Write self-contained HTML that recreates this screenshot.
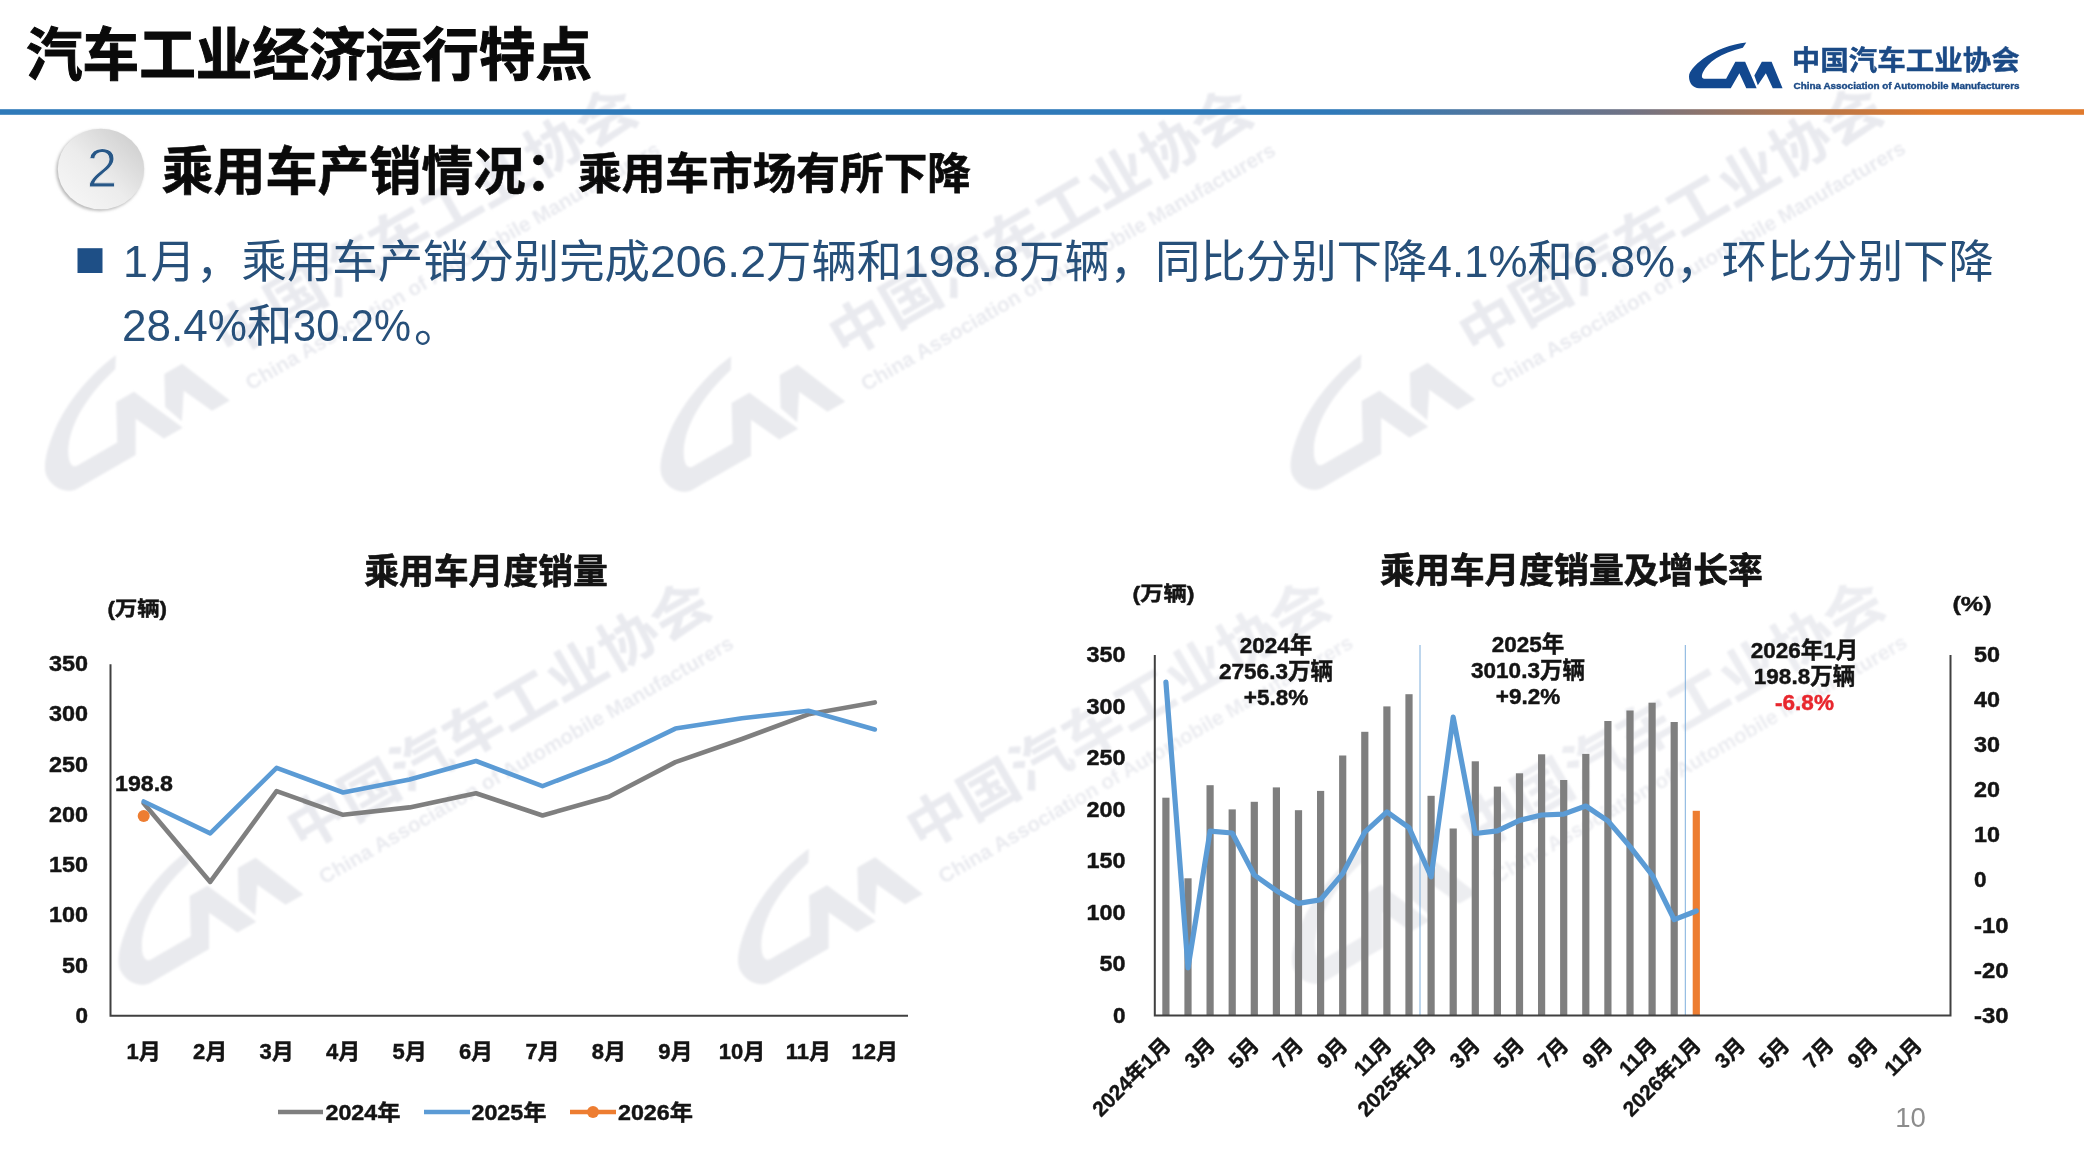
<!DOCTYPE html>
<html lang="zh-CN">
<head>
<meta charset="utf-8">
<title>汽车工业经济运行特点</title>
<style>
html,body{margin:0;padding:0;background:#ffffff;}
body{width:2084px;height:1172px;overflow:hidden;}
svg{display:block;font-family:"Liberation Sans", "Noto Sans CJK SC", sans-serif;filter:blur(0.55px);}
text{white-space:pre;}
</style>
</head>
<body>
<svg width="2084" height="1172" viewBox="0 0 2084 1172">
<defs>
<linearGradient id="hl" x1="0" y1="0" x2="1" y2="0">
<stop offset="0" stop-color="#2f7ab9"/>
<stop offset="0.64" stop-color="#2f7ab9"/>
<stop offset="0.78" stop-color="#6f7386"/>
<stop offset="0.86" stop-color="#b0764f"/>
<stop offset="0.93" stop-color="#e07a2d"/>
<stop offset="1" stop-color="#e07a2d"/>
</linearGradient>
<linearGradient id="ball" x1="0.1" y1="0.9" x2="0.9" y2="0.1">
<stop offset="0" stop-color="#f6f6f6"/>
<stop offset="0.45" stop-color="#ececec"/>
<stop offset="1" stop-color="#cfcfcf"/>
</linearGradient>
<filter id="bs" x="-20%" y="-20%" width="140%" height="140%"><feGaussianBlur stdDeviation="1.6"/></filter>
<filter id="wb" x="0" y="0" width="100%" height="100%" filterUnits="userSpaceOnUse" primitiveUnits="userSpaceOnUse"><feGaussianBlur stdDeviation="1.3"/></filter>
</defs>
<rect width="2084" height="1172" fill="#ffffff"/>

<g fill="#e9eaee" filter="url(#wb)">
<g transform="translate(61,501) rotate(-30) scale(2.1) translate(0,-47)">
<g transform="translate(-8.92,-8.35) scale(0.05757)" fill="#e9eaee"><path d="M1150 145 C900 170 600 280 400 430 C250 545 155 650 155 740 C155 850 230 940 330 940 L880 940 L1030 680 L1150 940 L1330 940 L1130 480 L960 480 L800 775 L420 775 C370 775 370 720 400 660 C480 500 700 330 1090 240 Z"/><path d="M1290 720 L1420 480 L1590 480 L1780 940 L1610 940 L1490 680 L1350 890 Z"/></g>
<text x="102.8" y="28" font-size="26.8" font-weight="700" fill="#e9eaef" textLength="228" lengthAdjust="spacingAndGlyphs">中国汽车工业协会</text>
<text x="104.5" y="46.6" font-size="9.7" font-weight="700" fill="#e9eaef" textLength="226" lengthAdjust="spacingAndGlyphs">China Association of Automobile Manufacturers</text>
</g>
<g transform="translate(676.4,502) rotate(-30) scale(2.1) translate(0,-47)">
<g transform="translate(-8.92,-8.35) scale(0.05757)" fill="#e9eaee"><path d="M1150 145 C900 170 600 280 400 430 C250 545 155 650 155 740 C155 850 230 940 330 940 L880 940 L1030 680 L1150 940 L1330 940 L1130 480 L960 480 L800 775 L420 775 C370 775 370 720 400 660 C480 500 700 330 1090 240 Z"/><path d="M1290 720 L1420 480 L1590 480 L1780 940 L1610 940 L1490 680 L1350 890 Z"/></g>
<text x="102.8" y="28" font-size="26.8" font-weight="700" fill="#e9eaef" textLength="228" lengthAdjust="spacingAndGlyphs">中国汽车工业协会</text>
<text x="104.5" y="46.6" font-size="9.7" font-weight="700" fill="#e9eaef" textLength="226" lengthAdjust="spacingAndGlyphs">China Association of Automobile Manufacturers</text>
</g>
<g transform="translate(1306.5,500) rotate(-30) scale(2.1) translate(0,-47)">
<g transform="translate(-8.92,-8.35) scale(0.05757)" fill="#e9eaee"><path d="M1150 145 C900 170 600 280 400 430 C250 545 155 650 155 740 C155 850 230 940 330 940 L880 940 L1030 680 L1150 940 L1330 940 L1130 480 L960 480 L800 775 L420 775 C370 775 370 720 400 660 C480 500 700 330 1090 240 Z"/><path d="M1290 720 L1420 480 L1590 480 L1780 940 L1610 940 L1490 680 L1350 890 Z"/></g>
<text x="102.8" y="28" font-size="26.8" font-weight="700" fill="#e9eaef" textLength="228" lengthAdjust="spacingAndGlyphs">中国汽车工业协会</text>
<text x="104.5" y="46.6" font-size="9.7" font-weight="700" fill="#e9eaef" textLength="226" lengthAdjust="spacingAndGlyphs">China Association of Automobile Manufacturers</text>
</g>
<g transform="translate(134.5,995) rotate(-30) scale(2.1) translate(0,-47)">
<g transform="translate(-8.92,-8.35) scale(0.05757)" fill="#e9eaee"><path d="M1150 145 C900 170 600 280 400 430 C250 545 155 650 155 740 C155 850 230 940 330 940 L880 940 L1030 680 L1150 940 L1330 940 L1130 480 L960 480 L800 775 L420 775 C370 775 370 720 400 660 C480 500 700 330 1090 240 Z"/><path d="M1290 720 L1420 480 L1590 480 L1780 940 L1610 940 L1490 680 L1350 890 Z"/></g>
<text x="102.8" y="28" font-size="26.8" font-weight="700" fill="#e9eaef" textLength="228" lengthAdjust="spacingAndGlyphs">中国汽车工业协会</text>
<text x="104.5" y="46.6" font-size="9.7" font-weight="700" fill="#e9eaef" textLength="226" lengthAdjust="spacingAndGlyphs">China Association of Automobile Manufacturers</text>
</g>
<g transform="translate(754,994.5) rotate(-30) scale(2.1) translate(0,-47)">
<g transform="translate(-8.92,-8.35) scale(0.05757)" fill="#e9eaee"><path d="M1150 145 C900 170 600 280 400 430 C250 545 155 650 155 740 C155 850 230 940 330 940 L880 940 L1030 680 L1150 940 L1330 940 L1130 480 L960 480 L800 775 L420 775 C370 775 370 720 400 660 C480 500 700 330 1090 240 Z"/><path d="M1290 720 L1420 480 L1590 480 L1780 940 L1610 940 L1490 680 L1350 890 Z"/></g>
<text x="102.8" y="28" font-size="26.8" font-weight="700" fill="#e9eaef" textLength="228" lengthAdjust="spacingAndGlyphs">中国汽车工业协会</text>
<text x="104.5" y="46.6" font-size="9.7" font-weight="700" fill="#e9eaef" textLength="226" lengthAdjust="spacingAndGlyphs">China Association of Automobile Manufacturers</text>
</g>
<g transform="translate(1308,994) rotate(-30) scale(2.1) translate(0,-47)">
<g transform="translate(-8.92,-8.35) scale(0.05757)" fill="#e9eaee"><path d="M1150 145 C900 170 600 280 400 430 C250 545 155 650 155 740 C155 850 230 940 330 940 L880 940 L1030 680 L1150 940 L1330 940 L1130 480 L960 480 L800 775 L420 775 C370 775 370 720 400 660 C480 500 700 330 1090 240 Z"/><path d="M1290 720 L1420 480 L1590 480 L1780 940 L1610 940 L1490 680 L1350 890 Z"/></g>
<text x="102.8" y="28" font-size="26.8" font-weight="700" fill="#e9eaef" textLength="228" lengthAdjust="spacingAndGlyphs">中国汽车工业协会</text>
<text x="104.5" y="46.6" font-size="9.7" font-weight="700" fill="#e9eaef" textLength="226" lengthAdjust="spacingAndGlyphs">China Association of Automobile Manufacturers</text>
</g>
</g>
<rect x="1070" y="545" width="1014" height="627" fill="#ffffff" opacity="0.15"/>
<text x="26" y="75" font-size="57" font-weight="700" fill="#0a0a0a" textLength="566" lengthAdjust="spacingAndGlyphs" stroke="#0a0a0a" stroke-width="1">汽车工业经济运行特点</text>
<rect x="0" y="109.2" width="2084" height="5.6" fill="url(#hl)"/>
<g transform="translate(1689,42)">
<g transform="translate(-8.92,-7.95) scale(0.05757)" fill="#12488f"><path d="M1150 145 C900 170 600 280 400 430 C250 545 155 650 155 740 C155 850 230 940 330 940 L880 940 L1030 680 L1150 940 L1330 940 L1130 480 L960 480 L800 775 L420 775 C370 775 370 720 400 660 C480 500 700 330 1090 240 Z"/><path d="M1290 720 L1420 480 L1590 480 L1780 940 L1610 940 L1490 680 L1350 890 Z"/></g>
<text x="102.8" y="28" font-size="26.8" font-weight="700" fill="#1b4a86" stroke="#1b4a86" stroke-width="0.4" textLength="228" lengthAdjust="spacingAndGlyphs">中国汽车工业协会</text>
<text x="104.5" y="46.6" font-size="9.7" font-weight="700" fill="#1b4a86" stroke="#1b4a86" stroke-width="0.4" textLength="226" lengthAdjust="spacingAndGlyphs">China Association of Automobile Manufacturers</text>
</g>
<ellipse cx="99.6" cy="170.6" rx="43.5" ry="40.5" fill="#b9b9b9" filter="url(#bs)"/>
<ellipse cx="101" cy="169" rx="43.2" ry="40.2" fill="url(#ball)"/>
<text x="102" y="186.6" font-size="55" font-weight="400" fill="#275787" text-anchor="middle" stroke="#e9e9e9" stroke-width="0.9">2</text>
<text x="161.5" y="190" font-size="52" font-weight="700" fill="#0a0a0a" stroke="#0a0a0a" stroke-width="0.6">乘用车产销情况：</text>
<text x="578" y="189" font-size="43.6" font-weight="700" fill="#0a0a0a" textLength="393" lengthAdjust="spacingAndGlyphs" stroke="#0a0a0a" stroke-width="0.6">乘用车市场有所下降</text>
<rect x="77.5" y="248.2" width="25" height="24.8" fill="#1e4f86"/>
<text x="123" y="276.6" font-size="44.8" font-weight="400" fill="#27507a" textLength="25" lengthAdjust="spacingAndGlyphs">1</text>
<text x="150.5" y="277.8" font-size="45.4" font-weight="400" fill="#27507a">月，</text>
<text x="241.5" y="277.8" font-size="45.4" font-weight="400" fill="#27507a">乘用车产销分别完成</text>
<text x="650" y="276.6" font-size="44.8" font-weight="400" fill="#27507a" textLength="116" lengthAdjust="spacingAndGlyphs">206.2</text>
<text x="766" y="277.8" font-size="45.4" font-weight="400" fill="#27507a">万辆和</text>
<text x="903" y="276.6" font-size="44.8" font-weight="400" fill="#27507a" textLength="116" lengthAdjust="spacingAndGlyphs">198.8</text>
<text x="1019" y="277.8" font-size="45.4" font-weight="400" fill="#27507a">万辆，</text>
<text x="1155" y="277.8" font-size="45.4" font-weight="400" fill="#27507a">同比分别下降</text>
<text x="1427.5" y="276.6" font-size="44.8" font-weight="400" fill="#27507a" textLength="100" lengthAdjust="spacingAndGlyphs">4.1%</text>
<text x="1527.5" y="277.8" font-size="45.4" font-weight="400" fill="#27507a">和</text>
<text x="1573" y="276.6" font-size="44.8" font-weight="400" fill="#27507a" textLength="102" lengthAdjust="spacingAndGlyphs">6.8%</text>
<text x="1676" y="277.8" font-size="45.4" font-weight="400" fill="#27507a">，</text>
<text x="1721.5" y="277.8" font-size="45.4" font-weight="400" fill="#27507a">环比分别下降</text>
<text x="122" y="341.2" font-size="44.8" font-weight="400" fill="#27507a" textLength="125" lengthAdjust="spacingAndGlyphs">28.4%</text>
<text x="247" y="342.4" font-size="45.4" font-weight="400" fill="#27507a">和</text>
<text x="293" y="341.2" font-size="44.8" font-weight="400" fill="#27507a" textLength="118" lengthAdjust="spacingAndGlyphs">30.2%</text>
<text x="414" y="342.4" font-size="45.4" font-weight="400" fill="#27507a">。</text>
<text x="486" y="584" font-size="34.8" font-weight="700" fill="#141414" text-anchor="middle" stroke="#0a0a0a" stroke-width="0.6">乘用车月度销量</text>
<text x="107.5" y="616" font-size="20" font-weight="700" fill="#141414" textLength="59.5" lengthAdjust="spacingAndGlyphs" stroke="#141414" stroke-width="0.45">(万辆)</text>
<text x="88" y="1022.8" font-size="22.5" font-weight="700" fill="#141414" text-anchor="end" textLength="12.5" lengthAdjust="spacingAndGlyphs" stroke="#141414" stroke-width="0.45">0</text>
<text x="88" y="972.6" font-size="22.5" font-weight="700" fill="#141414" text-anchor="end" textLength="26.0" lengthAdjust="spacingAndGlyphs" stroke="#141414" stroke-width="0.45">50</text>
<text x="88" y="922.3" font-size="22.5" font-weight="700" fill="#141414" text-anchor="end" textLength="39.0" lengthAdjust="spacingAndGlyphs" stroke="#141414" stroke-width="0.45">100</text>
<text x="88" y="872.1" font-size="22.5" font-weight="700" fill="#141414" text-anchor="end" textLength="39.0" lengthAdjust="spacingAndGlyphs" stroke="#141414" stroke-width="0.45">150</text>
<text x="88" y="821.9" font-size="22.5" font-weight="700" fill="#141414" text-anchor="end" textLength="39.0" lengthAdjust="spacingAndGlyphs" stroke="#141414" stroke-width="0.45">200</text>
<text x="88" y="771.7" font-size="22.5" font-weight="700" fill="#141414" text-anchor="end" textLength="39.0" lengthAdjust="spacingAndGlyphs" stroke="#141414" stroke-width="0.45">250</text>
<text x="88" y="721.4" font-size="22.5" font-weight="700" fill="#141414" text-anchor="end" textLength="39.0" lengthAdjust="spacingAndGlyphs" stroke="#141414" stroke-width="0.45">300</text>
<text x="88" y="671.2" font-size="22.5" font-weight="700" fill="#141414" text-anchor="end" textLength="39.0" lengthAdjust="spacingAndGlyphs" stroke="#141414" stroke-width="0.45">350</text>
<polyline points="143.7,803.3 210.2,881.9 276.6,791.2 343.1,814.8 409.6,807.4 476.0,793.3 542.5,815.5 608.9,796.7 675.4,762.1 741.9,739.0 808.3,714.3 874.8,702.4" fill="none" stroke="#7f7f7f" stroke-width="4.6" stroke-linejoin="round" stroke-linecap="round"/>
<polyline points="143.7,801.5 210.2,833.4 276.6,767.9 343.1,792.5 409.6,779.5 476.0,761.0 542.5,786.1 608.9,760.6 675.4,728.6 741.9,718.3 808.3,710.7 874.8,729.5" fill="none" stroke="#5b9bd5" stroke-width="4.6" stroke-linejoin="round" stroke-linecap="round"/>
<circle cx="143.7" cy="816.1" r="6" fill="#ed7d31"/>
<text x="115" y="791" font-size="22.5" font-weight="700" fill="#141414" textLength="58" lengthAdjust="spacingAndGlyphs" stroke="#141414" stroke-width="0.45">198.8</text>
<path d="M110.5 664.2 V1015.8 H908" fill="none" stroke="#404040" stroke-width="2"/>
<text x="143.7" y="1059.3" font-size="22" font-weight="700" fill="#141414" text-anchor="middle" stroke="#141414" stroke-width="0.45">1月</text>
<text x="210.2" y="1059.3" font-size="22" font-weight="700" fill="#141414" text-anchor="middle" stroke="#141414" stroke-width="0.45">2月</text>
<text x="276.6" y="1059.3" font-size="22" font-weight="700" fill="#141414" text-anchor="middle" stroke="#141414" stroke-width="0.45">3月</text>
<text x="343.1" y="1059.3" font-size="22" font-weight="700" fill="#141414" text-anchor="middle" stroke="#141414" stroke-width="0.45">4月</text>
<text x="409.6" y="1059.3" font-size="22" font-weight="700" fill="#141414" text-anchor="middle" stroke="#141414" stroke-width="0.45">5月</text>
<text x="476.0" y="1059.3" font-size="22" font-weight="700" fill="#141414" text-anchor="middle" stroke="#141414" stroke-width="0.45">6月</text>
<text x="542.5" y="1059.3" font-size="22" font-weight="700" fill="#141414" text-anchor="middle" stroke="#141414" stroke-width="0.45">7月</text>
<text x="608.9" y="1059.3" font-size="22" font-weight="700" fill="#141414" text-anchor="middle" stroke="#141414" stroke-width="0.45">8月</text>
<text x="675.4" y="1059.3" font-size="22" font-weight="700" fill="#141414" text-anchor="middle" stroke="#141414" stroke-width="0.45">9月</text>
<text x="741.9" y="1059.3" font-size="22" font-weight="700" fill="#141414" text-anchor="middle" stroke="#141414" stroke-width="0.45">10月</text>
<text x="808.3" y="1059.3" font-size="22" font-weight="700" fill="#141414" text-anchor="middle" stroke="#141414" stroke-width="0.45">11月</text>
<text x="874.8" y="1059.3" font-size="22" font-weight="700" fill="#141414" text-anchor="middle" stroke="#141414" stroke-width="0.45">12月</text>
<line x1="278" y1="1112" x2="323" y2="1112" stroke="#7f7f7f" stroke-width="4.6"/>
<text x="325.5" y="1120.3" font-size="22" font-weight="700" fill="#141414" textLength="75" lengthAdjust="spacingAndGlyphs" stroke="#141414" stroke-width="0.45">2024年</text>
<line x1="424" y1="1112" x2="470" y2="1112" stroke="#5b9bd5" stroke-width="4.6"/>
<text x="471.5" y="1120.3" font-size="22" font-weight="700" fill="#141414" textLength="75" lengthAdjust="spacingAndGlyphs" stroke="#141414" stroke-width="0.45">2025年</text>
<line x1="570" y1="1112" x2="616" y2="1112" stroke="#ed7d31" stroke-width="4.6"/>
<circle cx="593" cy="1112" r="6" fill="#ed7d31"/>
<text x="618" y="1120.3" font-size="22" font-weight="700" fill="#141414" textLength="75" lengthAdjust="spacingAndGlyphs" stroke="#141414" stroke-width="0.45">2026年</text>
<text x="1571.5" y="583" font-size="34.8" font-weight="700" fill="#141414" text-anchor="middle" stroke="#0a0a0a" stroke-width="0.6">乘用车月度销量及增长率</text>
<text x="1132.5" y="601" font-size="20" font-weight="700" fill="#141414" textLength="62" lengthAdjust="spacingAndGlyphs" stroke="#141414" stroke-width="0.45">(万辆)</text>
<text x="1952.5" y="611" font-size="20" font-weight="700" fill="#141414" textLength="39" lengthAdjust="spacingAndGlyphs" stroke="#141414" stroke-width="0.45">(%)</text>
<text x="1125.5" y="1022.6" font-size="22.5" font-weight="700" fill="#141414" text-anchor="end" textLength="12.5" lengthAdjust="spacingAndGlyphs" stroke="#141414" stroke-width="0.45">0</text>
<text x="1125.5" y="971.1" font-size="22.5" font-weight="700" fill="#141414" text-anchor="end" textLength="26.0" lengthAdjust="spacingAndGlyphs" stroke="#141414" stroke-width="0.45">50</text>
<text x="1125.5" y="919.6" font-size="22.5" font-weight="700" fill="#141414" text-anchor="end" textLength="39.0" lengthAdjust="spacingAndGlyphs" stroke="#141414" stroke-width="0.45">100</text>
<text x="1125.5" y="868.1" font-size="22.5" font-weight="700" fill="#141414" text-anchor="end" textLength="39.0" lengthAdjust="spacingAndGlyphs" stroke="#141414" stroke-width="0.45">150</text>
<text x="1125.5" y="816.5" font-size="22.5" font-weight="700" fill="#141414" text-anchor="end" textLength="39.0" lengthAdjust="spacingAndGlyphs" stroke="#141414" stroke-width="0.45">200</text>
<text x="1125.5" y="765.0" font-size="22.5" font-weight="700" fill="#141414" text-anchor="end" textLength="39.0" lengthAdjust="spacingAndGlyphs" stroke="#141414" stroke-width="0.45">250</text>
<text x="1125.5" y="713.5" font-size="22.5" font-weight="700" fill="#141414" text-anchor="end" textLength="39.0" lengthAdjust="spacingAndGlyphs" stroke="#141414" stroke-width="0.45">300</text>
<text x="1125.5" y="662.0" font-size="22.5" font-weight="700" fill="#141414" text-anchor="end" textLength="39.0" lengthAdjust="spacingAndGlyphs" stroke="#141414" stroke-width="0.45">350</text>
<text x="1974" y="1022.6" font-size="22.5" font-weight="700" fill="#141414" textLength="34.5" lengthAdjust="spacingAndGlyphs" stroke="#141414" stroke-width="0.45">-30</text>
<text x="1974" y="977.5" font-size="22.5" font-weight="700" fill="#141414" textLength="34.5" lengthAdjust="spacingAndGlyphs" stroke="#141414" stroke-width="0.45">-20</text>
<text x="1974" y="932.5" font-size="22.5" font-weight="700" fill="#141414" textLength="34.5" lengthAdjust="spacingAndGlyphs" stroke="#141414" stroke-width="0.45">-10</text>
<text x="1974" y="887.4" font-size="22.5" font-weight="700" fill="#141414" textLength="12.5" lengthAdjust="spacingAndGlyphs" stroke="#141414" stroke-width="0.45">0</text>
<text x="1974" y="842.3" font-size="22.5" font-weight="700" fill="#141414" textLength="26.0" lengthAdjust="spacingAndGlyphs" stroke="#141414" stroke-width="0.45">10</text>
<text x="1974" y="797.2" font-size="22.5" font-weight="700" fill="#141414" textLength="26.0" lengthAdjust="spacingAndGlyphs" stroke="#141414" stroke-width="0.45">20</text>
<text x="1974" y="752.1" font-size="22.5" font-weight="700" fill="#141414" textLength="26.0" lengthAdjust="spacingAndGlyphs" stroke="#141414" stroke-width="0.45">30</text>
<text x="1974" y="707.1" font-size="22.5" font-weight="700" fill="#141414" textLength="26.0" lengthAdjust="spacingAndGlyphs" stroke="#141414" stroke-width="0.45">40</text>
<text x="1974" y="662.0" font-size="22.5" font-weight="700" fill="#141414" textLength="26.0" lengthAdjust="spacingAndGlyphs" stroke="#141414" stroke-width="0.45">50</text>
<rect x="1162.3" y="797.7" width="7.2" height="217.9" fill="#7f7f7f"/>
<rect x="1184.4" y="878.3" width="7.2" height="137.3" fill="#7f7f7f"/>
<rect x="1206.5" y="785.2" width="7.2" height="230.4" fill="#7f7f7f"/>
<rect x="1228.6" y="809.4" width="7.2" height="206.2" fill="#7f7f7f"/>
<rect x="1250.7" y="801.8" width="7.2" height="213.8" fill="#7f7f7f"/>
<rect x="1272.8" y="787.4" width="7.2" height="228.2" fill="#7f7f7f"/>
<rect x="1294.9" y="810.2" width="7.2" height="205.4" fill="#7f7f7f"/>
<rect x="1317.0" y="790.9" width="7.2" height="224.7" fill="#7f7f7f"/>
<rect x="1339.1" y="755.5" width="7.2" height="260.1" fill="#7f7f7f"/>
<rect x="1361.2" y="731.8" width="7.2" height="283.8" fill="#7f7f7f"/>
<rect x="1383.3" y="706.4" width="7.2" height="309.2" fill="#7f7f7f"/>
<rect x="1405.4" y="694.2" width="7.2" height="321.4" fill="#7f7f7f"/>
<rect x="1427.5" y="795.8" width="7.2" height="219.8" fill="#7f7f7f"/>
<rect x="1449.6" y="828.5" width="7.2" height="187.1" fill="#7f7f7f"/>
<rect x="1471.7" y="761.3" width="7.2" height="254.3" fill="#7f7f7f"/>
<rect x="1493.8" y="786.6" width="7.2" height="229.0" fill="#7f7f7f"/>
<rect x="1515.9" y="773.3" width="7.2" height="242.3" fill="#7f7f7f"/>
<rect x="1538.0" y="754.3" width="7.2" height="261.3" fill="#7f7f7f"/>
<rect x="1560.1" y="780.0" width="7.2" height="235.6" fill="#7f7f7f"/>
<rect x="1582.2" y="753.9" width="7.2" height="261.7" fill="#7f7f7f"/>
<rect x="1604.3" y="721.0" width="7.2" height="294.6" fill="#7f7f7f"/>
<rect x="1626.4" y="710.5" width="7.2" height="305.1" fill="#7f7f7f"/>
<rect x="1648.5" y="702.7" width="7.2" height="312.9" fill="#7f7f7f"/>
<rect x="1670.6" y="722.0" width="7.2" height="293.6" fill="#7f7f7f"/>
<rect x="1692.7" y="810.8" width="7.2" height="204.8" fill="#ed7d31"/>
<line x1="1420.0" y1="645" x2="1420.0" y2="1015.6" stroke="#6ea5d8" stroke-width="0.9"/>
<line x1="1685.3" y1="645" x2="1685.3" y2="1015.6" stroke="#6ea5d8" stroke-width="0.9"/>
<polyline points="1165.9,682.0 1188.0,967.8 1210.1,831.2 1232.2,833.0 1254.3,875.0 1276.4,890.7 1298.5,903.4 1320.6,899.8 1342.7,873.6 1364.8,832.1 1386.9,811.9 1409.0,827.6 1431.1,876.8 1453.2,717.2 1475.3,833.5 1497.4,830.8 1519.5,820.4 1541.6,815.0 1563.7,814.1 1585.8,806.0 1607.9,820.9 1630.0,846.6 1652.1,875.0 1674.2,919.6 1696.3,911.0" fill="none" stroke="#5b9bd5" stroke-width="5.2" stroke-linejoin="round" stroke-linecap="round"/>
<path d="M1154.8 655.0 V1015.6 H1950.5 V655.0" fill="none" stroke="#404040" stroke-width="2"/>
<text x="1276" y="653" font-size="22.5" font-weight="700" fill="#141414" text-anchor="middle" stroke="#141414" stroke-width="0.45">2024年</text>
<text x="1276" y="679" font-size="22.5" font-weight="700" fill="#141414" text-anchor="middle" stroke="#141414" stroke-width="0.45">2756.3万辆</text>
<text x="1276" y="705" font-size="22.5" font-weight="700" fill="#141414" text-anchor="middle" stroke="#141414" stroke-width="0.45">+5.8%</text>
<text x="1528" y="652" font-size="22.5" font-weight="700" fill="#141414" text-anchor="middle" stroke="#141414" stroke-width="0.45">2025年</text>
<text x="1528" y="678" font-size="22.5" font-weight="700" fill="#141414" text-anchor="middle" stroke="#141414" stroke-width="0.45">3010.3万辆</text>
<text x="1528" y="704" font-size="22.5" font-weight="700" fill="#141414" text-anchor="middle" stroke="#141414" stroke-width="0.45">+9.2%</text>
<text x="1804.5" y="658" font-size="22.5" font-weight="700" fill="#141414" text-anchor="middle" stroke="#141414" stroke-width="0.45">2026年1月</text>
<text x="1804.5" y="684" font-size="22.5" font-weight="700" fill="#141414" text-anchor="middle" stroke="#141414" stroke-width="0.45">198.8万辆</text>
<text x="1804.5" y="710" font-size="22.5" font-weight="700" fill="#e8262d" text-anchor="middle" stroke="#e8262d" stroke-width="0.45">-6.8%</text>
<text transform="translate(1166.4,1041) rotate(-45)" text-anchor="end" font-size="21" font-weight="700" fill="#141414" stroke="#141414" stroke-width="0.4" y="8">2024年1月</text>
<text transform="translate(1210.6,1041) rotate(-45)" text-anchor="end" font-size="21" font-weight="700" fill="#141414" stroke="#141414" stroke-width="0.4" y="8">3月</text>
<text transform="translate(1254.8,1041) rotate(-45)" text-anchor="end" font-size="21" font-weight="700" fill="#141414" stroke="#141414" stroke-width="0.4" y="8">5月</text>
<text transform="translate(1299.0,1041) rotate(-45)" text-anchor="end" font-size="21" font-weight="700" fill="#141414" stroke="#141414" stroke-width="0.4" y="8">7月</text>
<text transform="translate(1343.2,1041) rotate(-45)" text-anchor="end" font-size="21" font-weight="700" fill="#141414" stroke="#141414" stroke-width="0.4" y="8">9月</text>
<text transform="translate(1387.4,1041) rotate(-45)" text-anchor="end" font-size="21" font-weight="700" fill="#141414" stroke="#141414" stroke-width="0.4" y="8">11月</text>
<text transform="translate(1431.6,1041) rotate(-45)" text-anchor="end" font-size="21" font-weight="700" fill="#141414" stroke="#141414" stroke-width="0.4" y="8">2025年1月</text>
<text transform="translate(1475.8,1041) rotate(-45)" text-anchor="end" font-size="21" font-weight="700" fill="#141414" stroke="#141414" stroke-width="0.4" y="8">3月</text>
<text transform="translate(1520.0,1041) rotate(-45)" text-anchor="end" font-size="21" font-weight="700" fill="#141414" stroke="#141414" stroke-width="0.4" y="8">5月</text>
<text transform="translate(1564.2,1041) rotate(-45)" text-anchor="end" font-size="21" font-weight="700" fill="#141414" stroke="#141414" stroke-width="0.4" y="8">7月</text>
<text transform="translate(1608.4,1041) rotate(-45)" text-anchor="end" font-size="21" font-weight="700" fill="#141414" stroke="#141414" stroke-width="0.4" y="8">9月</text>
<text transform="translate(1652.6,1041) rotate(-45)" text-anchor="end" font-size="21" font-weight="700" fill="#141414" stroke="#141414" stroke-width="0.4" y="8">11月</text>
<text transform="translate(1696.8,1041) rotate(-45)" text-anchor="end" font-size="21" font-weight="700" fill="#141414" stroke="#141414" stroke-width="0.4" y="8">2026年1月</text>
<text transform="translate(1741.0,1041) rotate(-45)" text-anchor="end" font-size="21" font-weight="700" fill="#141414" stroke="#141414" stroke-width="0.4" y="8">3月</text>
<text transform="translate(1785.2,1041) rotate(-45)" text-anchor="end" font-size="21" font-weight="700" fill="#141414" stroke="#141414" stroke-width="0.4" y="8">5月</text>
<text transform="translate(1829.4,1041) rotate(-45)" text-anchor="end" font-size="21" font-weight="700" fill="#141414" stroke="#141414" stroke-width="0.4" y="8">7月</text>
<text transform="translate(1873.6,1041) rotate(-45)" text-anchor="end" font-size="21" font-weight="700" fill="#141414" stroke="#141414" stroke-width="0.4" y="8">9月</text>
<text transform="translate(1917.8,1041) rotate(-45)" text-anchor="end" font-size="21" font-weight="700" fill="#141414" stroke="#141414" stroke-width="0.4" y="8">11月</text>
<text x="1910.5" y="1126.5" font-size="27.5" font-weight="400" fill="#8c8c8c" text-anchor="middle">10</text>
</svg>
</body>
</html>
